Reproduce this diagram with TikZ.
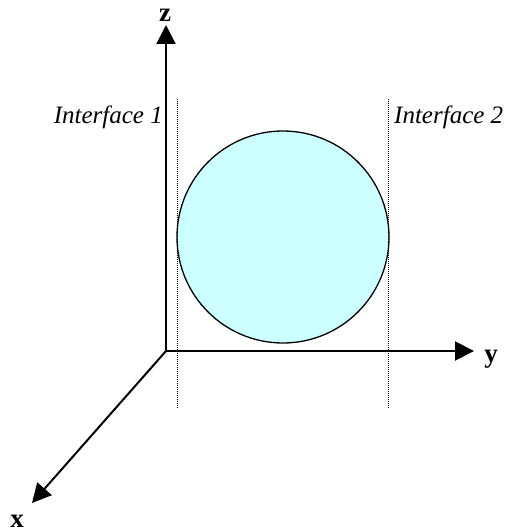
\documentclass[tikz,border=0pt]{standalone}
\usepackage{fontspec}
\setmainfont{Liberation Serif}
\usetikzlibrary{arrows.meta}
\definecolor{ballfill}{HTML}{CCFFFF}
\tikzset{
  axis/.style={line width=2pt,-{Triangle[length=19pt,width=19pt]}},
  iface/.style={line width=1pt,dash pattern=on 1pt off 1pt},
  axlabel/.style={font=\fontsize{27}{32}\selectfont\bfseries,inner sep=0pt},
  iflabel/.style={font=\fontsize{25}{30}\selectfont\itshape,inner sep=0pt},
}
\begin{document}
\begin{tikzpicture}[x=1pt,y=-1pt]
\useasboundingbox (0,0) rectangle (510,532);
\coordinate (O) at (166,351);
\coordinate (ztip) at (166,25);
\coordinate (ytip) at (474,351);
\coordinate (xtip) at (32,503);
\coordinate (d1top) at (177,99);
\coordinate (d1bot) at (177,408);
\coordinate (d2top) at (388,99);
\coordinate (d2bot) at (388,408);
\node[circle,draw,line width=1.3pt,fill=ballfill,minimum size=212pt,inner sep=0pt] (ball) at (283,237) {};
\draw[iface] (d1top) -- (d1bot);
\draw[iface] (d2top) -- (d2bot);
\draw[axis] (O) -- (ztip);
\draw[axis] (O) -- (ytip);
\draw[axis] (O) -- (xtip);
\node[axlabel,anchor=base] (zl) at (165,22) {z};
\node[axlabel,anchor=base] (yl) at (491,362) {y};
\node[axlabel,anchor=base] (xl) at (17,527) {x};
\node[iflabel,anchor=base east] (if1) at (163,124) {Interface 1};
\node[iflabel,anchor=base west] (if2) at (394,124) {Interface 2};
\end{tikzpicture}
\end{document}
